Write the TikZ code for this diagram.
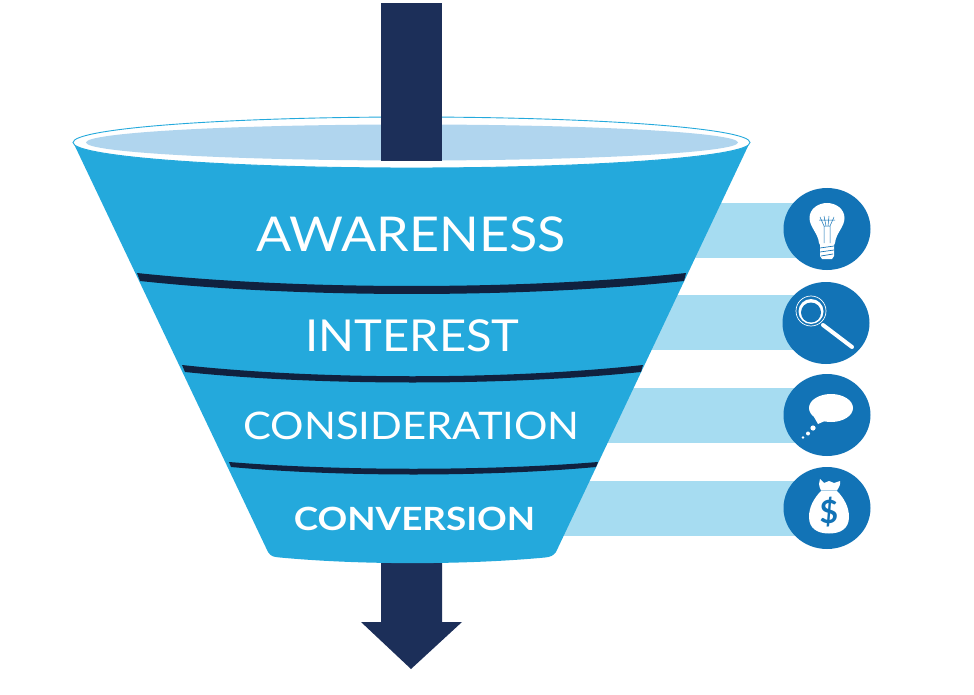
\documentclass[tikz,border=0pt]{standalone}
\usepackage{fontspec}
\setmainfont{Lato}
\definecolor{fblue}{HTML}{24A9DC}
\definecolor{navy}{HTML}{1C2F59}
\definecolor{sepnavy}{HTML}{10213F}
\definecolor{innerb}{HTML}{B0D5EE}
\definecolor{barb}{HTML}{A6DCF1}
\definecolor{circb}{HTML}{1273B6}
\tikzset{
  x=1pt,y=-1pt,
  stagelabel/.style={text=white,inner sep=0pt,anchor=center,transform shape},
  icondisc/.style={fill=circb,draw=none},
  sidebar/.style={fill=barb,draw=none},
  wht/.style={fill=white,draw=none},
  sep/.style={fill=sepnavy,draw=none}
}
\begin{document}
\begin{tikzpicture}
\useasboundingbox (0,0) rectangle (974,695);
\fill[white] (0,0) rectangle (974,695);
% side bars
\fill[sidebar] (680,203) rectangle (825,258);
\fill[sidebar] (640,295) rectangle (825,350);
\fill[sidebar] (590,388) rectangle (825,443);
\fill[sidebar] (540,481) rectangle (825,536);
% arrow lower part
\fill[navy] (381,555) -- (442,555) -- (442,622) -- (462,622) -- (411,669) -- (361,622) -- (381,622) -- cycle;
% funnel body
\fill[fblue] (73,142) -- (268,552) .. controls (271,557) and (275,557) .. (280,557.5)
  .. controls (360,565) and (465,565) .. (545,557.5)
  .. controls (550,557) and (553,556) .. (556,552) -- (750,142) -- cycle;
% rim
\fill[white,draw=fblue,line width=0.9] (411.5,142.5) ellipse [x radius=338.5,y radius=25.5];
\fill[innerb] (412,142.5) ellipse [x radius=326,y radius=18];
% arrow top
\fill[navy] (381,3) rectangle (442,161);
% separators
\fill[sep] (137,273) .. controls (300,290.3) and (523,290.3) .. (686,273)
  -- (684,281) .. controls (523,298.3) and (300,298.3) .. (140,281) -- cycle;
\fill[sep] (182,365) .. controls (320,380) and (505,380) .. (643,365)
  -- (641,372) .. controls (505,386) and (320,386) .. (185,372) -- cycle;
\fill[sep] (229,462) .. controls (340,471) and (487,471) .. (598,462)
  -- (596,467) .. controls (487,477) and (340,477) .. (231,467) -- cycle;
% labels
\node[stagelabel,xscale=1.085,font=\fontsize{48}{48}\selectfont] (awareness) at (411,234) {AWARENESS};
\node[stagelabel,xscale=1.07,font=\fontsize{44}{44}\selectfont] (interest) at (412.5,336) {INTEREST};
\node[stagelabel,xscale=1.10,font=\fontsize{38}{38}\selectfont] (consideration) at (411.5,426) {CONSIDERATION};
\node[stagelabel,xscale=1.15,font=\bfseries\fontsize{32}{32}\selectfont] (conversion) at (414.5,519) {CONVERSION};
% discs
\fill[icondisc] (827,229) ellipse [x radius=43.5,y radius=41];
\fill[icondisc] (826,323) ellipse [x radius=43.5,y radius=41];
\fill[icondisc] (827,415) ellipse [x radius=43.5,y radius=41];
\fill[icondisc] (827,508) ellipse [x radius=43.5,y radius=41];
% bulb
\begin{scope}[shift={(827,229)}]
\fill[wht] (-8,14) .. controls (-9,4) and (-17.5,-2) .. (-17.5,-11)
  .. controls (-17.5,-20) and (-9,-26) .. (0,-26)
  .. controls (9,-26) and (17.5,-20) .. (17.5,-11)
  .. controls (17.5,-2) and (9,4) .. (8,14) -- (7,16) -- (7,27) -- (5,30) -- (-5,30) -- (-7,27) -- (-7,16) -- cycle;
\draw[circb,line width=0.7] (-7,19) -- (7,17) (-7,23) -- (7,21) (-6,27) -- (6,25);
\draw[circb,line width=0.5] (-3,14) -- (-3,-3) -- (3,-3) -- (3,14) (-3,-3) -- (-7,-12) (-1,-3) -- (-3,-13) (1,-3) -- (2,-13) (3,-3) -- (7,-12) (-8,-9) -- (8,-9);
\end{scope}
% magnifier
\begin{scope}[shift={(826,323)}]
\draw[white,line width=0.7] (-15,-12) circle [radius=15];
\fill[white] (-15,-11.5) circle [radius=12.5];
\fill[circb] (-15,-10.5) circle [radius=10];
\draw[white,line width=4,line cap=round] (-3,2) -- (26,24);
\end{scope}
% speech bubble
\begin{scope}[shift={(827,415)}]
\fill[wht] (4,-7) ellipse [x radius=22,y radius=14];
\fill[wht] (-13,2) -- (-9,9) -- (0,5) -- cycle;
\fill[wht] (-14,13) circle [radius=2.6];
\fill[wht] (-19,18.5) circle [radius=2];
\fill[wht] (-24,22.5) circle [radius=1.4];
\end{scope}
% money bag
\begin{scope}[shift={(827,508)}]
\fill[wht] (-6,-17) .. controls (-13,-10) and (-18,-1) .. (-18,9)
  .. controls (-18,21) and (-9,25.5) .. (2,25.5)
  .. controls (13,25.5) and (22,21) .. (22,9)
  .. controls (22,-1) and (17,-10) .. (10,-17) -- cycle;
\fill[wht] (-6,-17.5) -- (10,-17.5) .. controls (12,-21) and (14,-24) .. (13,-27)
  -- (7,-25) -- (2,-27) -- (-3,-25) -- (-7,-29) -- (-8,-24) .. controls (-8,-22) and (-7,-20) .. (-6,-17.5) -- cycle;
\node[text=circb,inner sep=0pt,font=\bfseries\fontsize{32}{32}\selectfont] (dollar) at (2,4) {\$};
\end{scope}
\end{tikzpicture}
\end{document}
